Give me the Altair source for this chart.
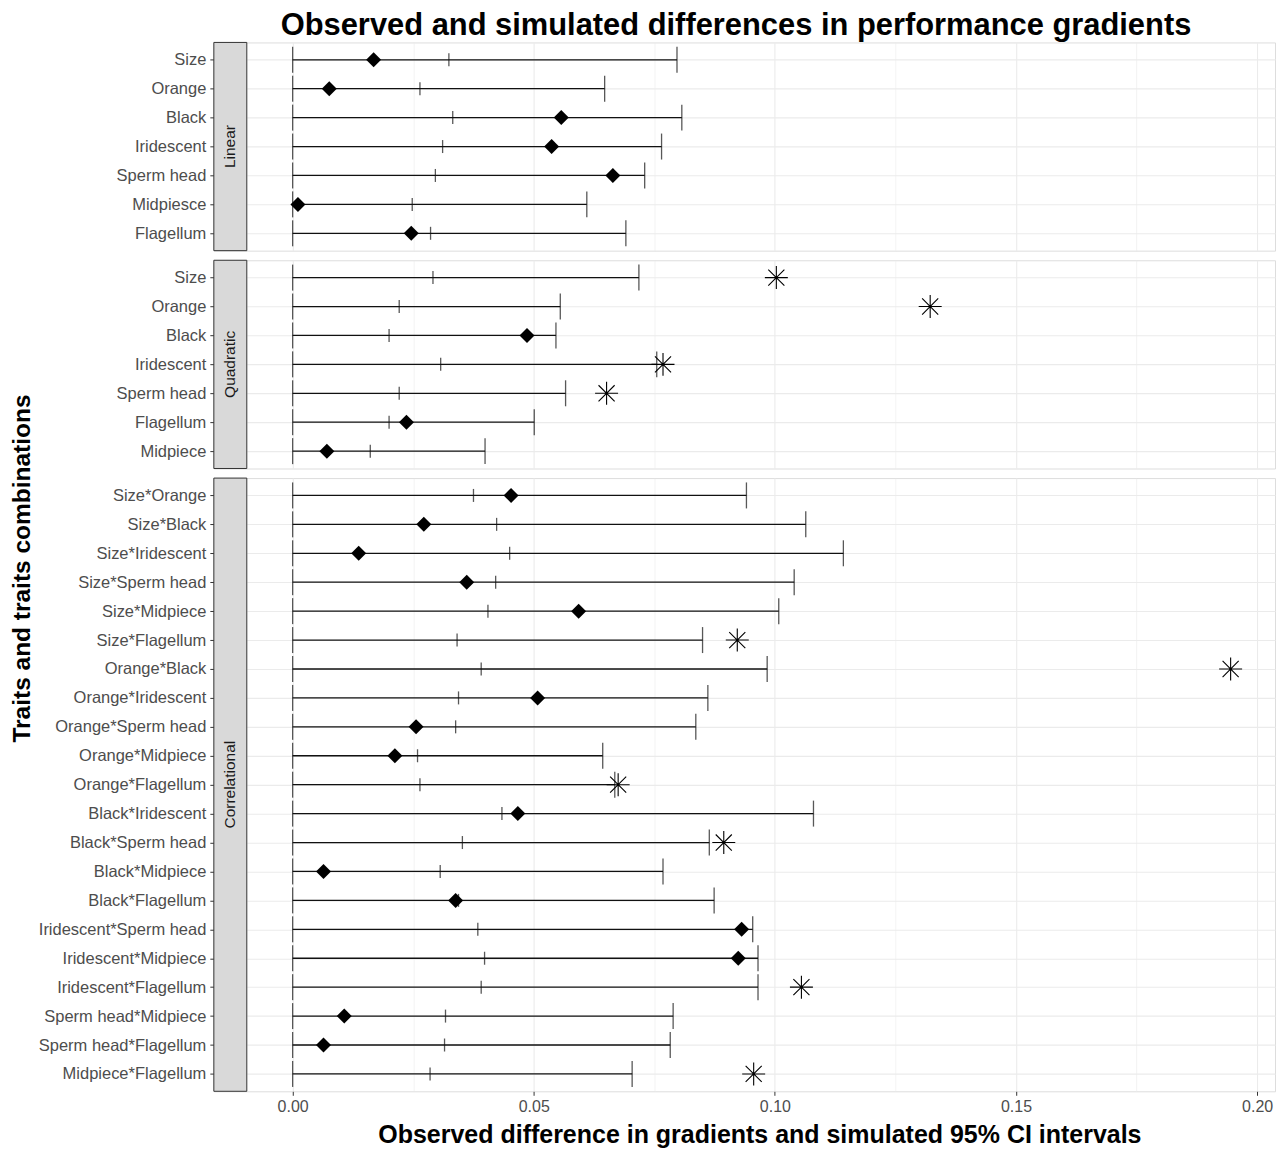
import altair as alt
import pandas as pd

# ---------------- data ----------------
linear_labels = ["Size", "Orange", "Black", "Iridescent", "Sperm head", "Midpiesce", "Flagellum"]
linear_median = [0.0324, 0.0264, 0.0332, 0.0311, 0.0296, 0.0248, 0.0286]
linear_upper = [0.0797, 0.0647, 0.0807, 0.0765, 0.0730, 0.0610, 0.0691]
linear_obs = [0.0168, 0.0076, 0.0557, 0.0537, 0.0664, 0.0011, 0.0246]

quad_labels = ["Size", "Orange", "Black", "Iridescent", "Sperm head", "Flagellum", "Midpiece"]
quad_median = [0.0291, 0.0221, 0.0200, 0.0307, 0.0221, 0.0200, 0.0161]
quad_upper = [0.0718, 0.0555, 0.0546, 0.0755, 0.0566, 0.0501, 0.0399]
quad_obs = [0.1003, 0.1322, 0.0486, 0.0768, 0.0651, 0.0236, 0.0071]

corr_labels = ["Size*Orange", "Size*Black", "Size*Iridescent", "Size*Sperm head",
               "Size*Midpiece", "Size*Flagellum", "Orange*Black", "Orange*Iridescent",
               "Orange*Sperm head", "Orange*Midpiece", "Orange*Flagellum",
               "Black*Iridescent", "Black*Sperm head", "Black*Midpiece", "Black*Flagellum",
               "Iridescent*Sperm head", "Iridescent*Midpiece", "Iridescent*Flagellum",
               "Sperm head*Midpiece", "Sperm head*Flagellum", "Midpiece*Flagellum"]
corr_median = [0.0375, 0.0423, 0.0450, 0.0421, 0.0405, 0.0341, 0.0391, 0.0344, 0.0338,
               0.0259, 0.0264, 0.0434, 0.0352, 0.0306, 0.0344, 0.0384, 0.0398, 0.0391,
               0.0317, 0.0315, 0.0285]
corr_upper = [0.0941, 0.1064, 0.1142, 0.1040, 0.1008, 0.0850, 0.0984, 0.0861, 0.0836,
              0.0643, 0.0668, 0.1080, 0.0864, 0.0768, 0.0874, 0.0954, 0.0965, 0.0965,
              0.0789, 0.0783, 0.0704]
corr_obs = [0.0453, 0.0272, 0.0137, 0.0361, 0.0593, 0.0922, 0.1945, 0.0508, 0.0256,
            0.0212, 0.0675, 0.0467, 0.0894, 0.0064, 0.0338, 0.0931, 0.0924, 0.1055,
            0.0107, 0.0064, 0.0956]

x_ticks = [0.0, 0.025, 0.05, 0.075, 0.10, 0.125, 0.15, 0.175, 0.20]

TITLE = "Observed and simulated differences in performance gradients"
XTITLE = "Observed difference in gradients and simulated 95% CI intervals"
YTITLE = "Traits and traits combinations"

# ---------------- styling ----------------
FONT = "Liberation Sans"
STEP = 28.95
PLOT_W = 1062
STRIP_W = 33
X_DOMAIN = [-0.0095, 0.2037]
MINOR = "round(datum.value*40) % 2 != 0"
DIAMOND = "M0,-1L1,0L0,1L-1,0Z"
STAR = "M0,-1L0,1M-1,0L1,0M-0.7,-0.7L0.7,0.7M-0.7,0.7L0.7,-0.7"
LW = 1.3


def panel(name, labels, med, upp, obs, bottom=False, ytitle=None, ytitle_y=None):
    n = len(labels)
    h = round(STEP * (n + 0.2), 1)
    df = pd.DataFrame({"label": labels, "lo": [0.0] * n, "median": med,
                       "upper": upp, "obs": obs})
    strip_df = pd.DataFrame({"panel": [name]})

    xscale = alt.Scale(domain=X_DOMAIN, range=[STRIP_W, PLOT_W], nice=False, zero=False)
    yscale = alt.Scale(type="point", domain=labels, padding=0.6)

    grid_kw = dict(grid=True, gridColor="#EBEBEB",
                   gridWidth={"condition": {"test": MINOR, "value": 0.6}, "value": 1.1})
    if bottom:
        xaxis = alt.Axis(values=x_ticks, domain=False, title=XTITLE,
                         labelExpr="round(datum.value*40) % 2 == 0 ? format(datum.value, '.2f') : ''",
                         tickOpacity={"condition": {"test": MINOR, "value": 0}, "value": 1},
                         tickColor="#333333", tickSize=4, labelPadding=3,
                         labelFontSize=16, labelColor="#4D4D4D",
                         titleFontSize=25, titleFontWeight="bold", titleColor="black",
                         titlePadding=8, titleX=546, titleAlign="center", **grid_kw)
    else:
        xaxis = alt.Axis(values=x_ticks, domain=False, labels=False, ticks=False,
                         title=None, **grid_kw)

    ykw = dict(domain=False, tickColor="#333333", tickSize=4, labelPadding=4,
               labelFontSize=16.5, labelColor="#4D4D4D", grid=True, gridColor="#EBEBEB",
               gridWidth=1.1)
    if ytitle:
        yaxis = alt.Axis(title=ytitle, titleFontSize=24.5, titleFontWeight="bold",
                         titleColor="black", titlePadding=4, titleY=ytitle_y, **ykw)
    else:
        yaxis = alt.Axis(title=None, **ykw)

    X = lambda f: alt.X(f, type="quantitative", scale=xscale, axis=xaxis)
    Y = alt.Y("label:N", scale=yscale, axis=yaxis, sort=labels)

    base = alt.Chart(df)
    strip = alt.Chart(strip_df).mark_rect(fill="#D9D9D9", stroke="#333333", strokeWidth=1).encode(
        x=alt.value(0), x2=alt.value(STRIP_W), y=alt.value(0), y2=alt.value(h))
    strip_text = alt.Chart(strip_df).mark_text(angle=270, fontSize=15.5, color="#1A1A1A",
                                               font=FONT).encode(
        x=alt.value(STRIP_W / 2), y=alt.value(h / 2), text="panel:N")
    line = base.mark_rule(color="#111111", strokeWidth=LW).encode(x=X("lo"), x2="upper:Q", y=Y)
    cap_lo = base.mark_tick(color="#111111", size=26, thickness=LW).encode(x=X("lo"), y=Y)
    cap_hi = base.mark_tick(color="#111111", size=26, thickness=LW).encode(x=X("upper"), y=Y)
    mid = base.mark_tick(color="#111111", size=13, thickness=LW).encode(x=X("median"), y=Y)
    dia = base.transform_filter("datum.obs <= datum.upper").mark_point(
        shape=DIAMOND, filled=True, color="black", size=225, opacity=1).encode(x=X("obs"), y=Y)
    star = base.transform_filter("datum.obs > datum.upper").mark_point(
        shape=STAR, filled=False, stroke="black", strokeWidth=1.1, size=529,
        opacity=1).encode(x=X("obs"), y=Y)

    return alt.layer(line, cap_lo, cap_hi, mid, dia, star, strip, strip_text).properties(
        width=PLOT_W, height=h)


p1 = panel("Linear", linear_labels, linear_median, linear_upper, linear_obs)
p2 = panel("Quadratic", quad_labels, quad_median, quad_upper, quad_obs)
p3 = panel("Correlational", corr_labels, corr_median, corr_upper, corr_obs,
           bottom=True, ytitle=YTITLE, ytitle_y=90)

chart = alt.vconcat(p1, p2, p3, spacing=9, bounds="flush").properties(
    title=alt.TitleParams(TITLE, fontSize=30.9, fontWeight="bold", color="black",
                          anchor="middle", dx=94, offset=0, font=FONT),
    padding={"left": 0, "top": 1, "right": 0, "bottom": 0},
).configure_view(stroke="#333333", strokeWidth=1).configure(font=FONT)

chart.save("out.html", embed_options={"renderer": "svg", "actions": False})
